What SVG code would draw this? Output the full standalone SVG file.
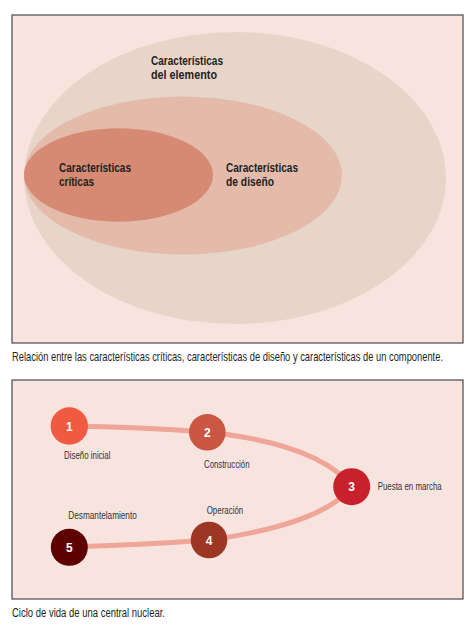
<svg xmlns="http://www.w3.org/2000/svg" width="476" height="629" viewBox="0 0 476 629">
<style>
.box{fill:#F8E4DF;stroke:#4a4a4a;stroke-width:1.2}
.t{font-family:"Liberation Sans",Arial,sans-serif;fill:#231F20}
.h{font-size:12.5px;font-weight:bold}
.cap{font-size:12px}
.lbl{font-size:10.5px;fill:#333}
.num{font-family:"Liberation Sans",Arial,sans-serif;font-size:12px;font-weight:bold;fill:#fff;text-anchor:middle}
.link{fill:none;stroke:#EFA597;stroke-width:5;stroke-linecap:round}
</style>
<rect width="476" height="629" fill="#fff"/>
<g id="fig1">
<rect class="box" x="12" y="15" width="451" height="328"/>
<g id="elemento">
<ellipse cx="235" cy="178" rx="211" ry="146" fill="#E8D5CA"/>
<text class="t h" x="151" y="65" textLength="72" lengthAdjust="spacingAndGlyphs">Características</text>
<text class="t h" x="151" y="78.5" textLength="66" lengthAdjust="spacingAndGlyphs">del elemento</text>
</g>
<g id="diseno">
<ellipse cx="183" cy="175.5" rx="159" ry="79" fill="#E4BBAA"/>
<text class="t h" x="226" y="172" textLength="72" lengthAdjust="spacingAndGlyphs">Características</text>
<text class="t h" x="226" y="186" textLength="48" lengthAdjust="spacingAndGlyphs">de diseño</text>
</g>
<g id="criticas">
<ellipse cx="118.5" cy="175" rx="94.5" ry="46.7" fill="#D68A73"/>
<text class="t h" x="59" y="172" textLength="72" lengthAdjust="spacingAndGlyphs">Características</text>
<text class="t h" x="59" y="186" textLength="35" lengthAdjust="spacingAndGlyphs">críticas</text>
</g>
</g>
<text class="t cap" transform="translate(12,361) scale(0.8,1)" x="0" y="0" textLength="538.75" lengthAdjust="spacingAndGlyphs">Relación entre las características críticas, características de diseño y características de un componente.</text>
<rect class="box" x="12" y="380" width="451" height="219"/>
<g id="connectors">
<path class="link" d="M69,426 Q140,427 207,432 C280,440 330,458 352,487 C330,514 280,530 209,540 Q140,545 69,547"/>
</g>
<g id="n1">
<circle cx="69.3" cy="426" r="18.7" fill="#F05A40"/>
<text class="num" x="69.3" y="430.5">1</text>
<text class="t lbl" x="64" y="458.5" textLength="46.5" lengthAdjust="spacingAndGlyphs">Diseño inicial</text>
</g>
<g id="n2">
<circle cx="207.3" cy="432.3" r="18.3" fill="#C95743"/>
<text class="num" x="207.3" y="436.8">2</text>
<text class="t lbl" x="204" y="468" textLength="45.5" lengthAdjust="spacingAndGlyphs">Construcción</text>
</g>
<g id="n3">
<circle cx="351.7" cy="486.7" r="18.5" fill="#C9202E"/>
<text class="num" x="351.7" y="491.2">3</text>
<text class="t lbl" x="377.7" y="490" textLength="64" lengthAdjust="spacingAndGlyphs">Puesta en marcha</text>
</g>
<g id="n4">
<circle cx="209" cy="540" r="18.3" fill="#9C3723"/>
<text class="num" x="209" y="544.5">4</text>
<text class="t lbl" x="206.7" y="513.5" textLength="36.5" lengthAdjust="spacingAndGlyphs">Operación</text>
</g>
<g id="n5">
<circle cx="69.3" cy="547.3" r="18.5" fill="#5E0000"/>
<text class="num" x="69.3" y="551.8">5</text>
<text class="t lbl" x="68.3" y="519" textLength="68.5" lengthAdjust="spacingAndGlyphs">Desmantelamiento</text>
</g>
<text class="t cap" x="12" y="617" textLength="153" lengthAdjust="spacingAndGlyphs">Ciclo de vida de una central nuclear.</text>
</svg>
